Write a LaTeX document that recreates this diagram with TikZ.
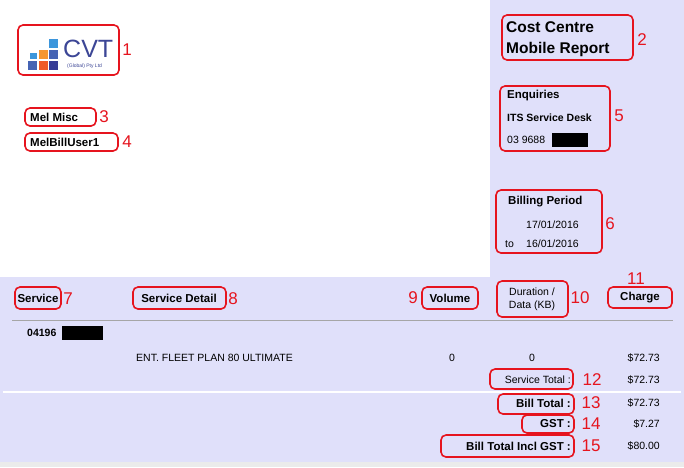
\documentclass[tikz,border=0pt]{standalone}
\usepackage{fontspec}
\setmainfont{Liberation Sans}
\definecolor{panel}{RGB}{224,224,250}
\definecolor{mark}{RGB}{230,20,30}
\definecolor{cvtblue}{RGB}{60,70,150}
\definecolor{sqlight}{RGB}{60,150,220}
\definecolor{sqblue}{RGB}{70,100,180}
\definecolor{sqdark}{RGB}{55,60,150}
\definecolor{sqorange}{RGB}{245,150,50}
\definecolor{sqred}{RGB}{240,90,40}
\tikzset{
  hl/.style={draw=mark, line width=1.6pt, rounded corners=5pt},
  num/.style={text=mark, font=\fontsize{17}{17}\selectfont, inner sep=0pt},
  lbl/.style={font=\fontsize{11.5}{12}\selectfont\bfseries, inner sep=0pt},
  val/.style={font=\fontsize{10.5}{11}\selectfont, inner sep=0pt},
  sq/.style={minimum size=9.5pt, inner sep=0pt, draw=white, line width=0.6pt}
}
\begin{document}
\begin{tikzpicture}[x=1pt, y=-1pt]
        \useasboundingbox (0,0) rectangle (684,467);
        \fill[white] (0,0) rectangle (684,467);
        % panels
        \fill[panel] (490,0) rectangle (684,277);
        \fill[panel] (0,277) rectangle (684,462);
        \fill[black!8] (0,462) rectangle (684,467);
        \draw[black!35, line width=1pt] (12,320) -- (673,320);
        \draw[white, line width=1.2pt] (3,392) -- (681,392);

        %logo
        \fill[sqlight] (30,53) rectangle (37,59);
        \node[sq, fill=sqlight, anchor=north west] (q1) at (48,38) {};
        \node[sq, fill=sqorange, anchor=north west] (q2) at (38,49) {};
        \node[sq, fill=sqblue, anchor=north west] (q3) at (48,49) {};
        \node[sq, fill=sqblue, anchor=north west] (q4) at (27,60) {};
        \node[sq, fill=sqred, anchor=north west] (q5) at (38,60) {};
        \node[sq, fill=sqdark, anchor=north west] (q6) at (48,60) {};
        \node[anchor=west, text=cvtblue, font=\fontsize{25}{25}\selectfont, inner sep=0pt] (cvt) at (63,49) {CVT};
        \node[anchor=west, text=cvtblue, font=\fontsize{5}{5}\selectfont, inner sep=0pt] (pty) at (67,66) {(Global) Pty Ltd};
        \draw[hl] (18,25) rectangle (119,75);
        \node[num] (n1) at (127,50) {1};

        %names
        \node[lbl, anchor=west] (mel) at (30,117) {Mel Misc};
        \draw[hl] (25,108) rectangle (96,126);
        \node[num] (n3) at (104,117) {3};
        \node[lbl, anchor=west] (user) at (30,142) {MelBillUser1};
        \draw[hl] (25,133) rectangle (118,151);
        \node[num] (n4) at (127,142) {4};

        %right panel
        \node[anchor=west, font=\fontsize{15.5}{16}\selectfont\bfseries, inner sep=0pt] (cc) at (506,27) {Cost Centre};
        \node[anchor=west, font=\fontsize{15.5}{16}\selectfont\bfseries, inner sep=0pt] (mr) at (506,49) {Mobile Report};
        \draw[hl] (502,15) rectangle (633,60);
        \node[num] (n2) at (642,40) {2};

        \node[lbl, anchor=west] (enq) at (507,96) {Enquiries};
        \node[lbl, anchor=west, font=\fontsize{10.5}{11}\selectfont\bfseries] (desk) at (507,118) {ITS Service Desk};
        \node[val, anchor=west] (ph) at (507,140) {03 9688};
        \fill[black] (552,133) rectangle (588,147);
        \draw[hl] (500,86) rectangle (610,151);
        \node[num] (n5) at (619,116) {5};

        \node[lbl, anchor=west] (bp) at (508,202) {Billing Period};
        \node[val, anchor=west] (d1) at (526,225) {17/01/2016};
        \node[val, anchor=west] (to) at (505,244) {to};
        \node[val, anchor=west] (d2) at (526,244) {16/01/2016};
        \draw[hl] (496,190) rectangle (602,253);
        \node[num] (n6) at (610,224) {6};

        %header row
        \node[lbl] (svc) at (38,298) {Service};
        \draw[hl] (15,287) rectangle (61,309);
        \node[num] (n7) at (68,299) {7};
        \node[lbl] (det) at (179,298) {Service Detail};
        \draw[hl] (133,287) rectangle (226,309);
        \node[num] (n8) at (233,299) {8};
        \node[num] (n9) at (413,298) {9};
        \node[lbl] (vol) at (450,298) {Volume};
        \draw[hl] (422,287) rectangle (478,309);
        \node[val, align=center] (dur) at (532,299) {Duration /\\[2pt]Data (KB)};
        \draw[hl] (497,281) rectangle (568,317);
        \node[num] (n10) at (580,298) {10};
        \node[num] (n11) at (636,279) {11};
        \node[lbl] (chg) at (640,298) {Charge};
        \draw[hl] (608,287) rectangle (672,308);

        %service line
        \node[lbl, font=\fontsize{10.5}{11}\selectfont\bfseries, anchor=west] (svcno) at (27,333) {04196};
        \fill[black] (62,326) rectangle (103,340);
        \node[val, anchor=west] (plan) at (136,358) {ENT. FLEET PLAN 80 ULTIMATE};
        \node[val] (v0) at (452,358) {0};
        \node[val] (dd0) at (532,358) {0};
        \node[val, anchor=east] (c1) at (660,358) {\$72.73};

        %totals
        \node[val, anchor=east] (st) at (571,380) {Service Total :};
        \draw[hl] (490,369) rectangle (573,389);
        \node[num] (n12) at (592,380) {12};
        \node[val, anchor=east] (c2) at (660,380) {\$72.73};
        \node[lbl, anchor=east] (bt) at (571,403) {Bill Total :};
        \draw[hl] (498,394) rectangle (574,414);
        \node[num] (n13) at (591,403) {13};
        \node[val, anchor=east] (c3) at (660,403) {\$72.73};
        \node[lbl, anchor=east] (gst) at (571,424) {GST :};
        \draw[hl] (522,415) rectangle (574,433);
        \node[num] (n14) at (591,424) {14};
        \node[val, anchor=east] (c4) at (660,424) {\$7.27};
        \node[lbl, anchor=east] (inc) at (571,446) {Bill Total Incl GST :};
        \draw[hl] (441,435) rectangle (574,457);
        \node[num] (n15) at (591,446) {15};
        \node[val, anchor=east] (c5) at (660,446) {\$80.00};
\end{tikzpicture}
\end{document}
